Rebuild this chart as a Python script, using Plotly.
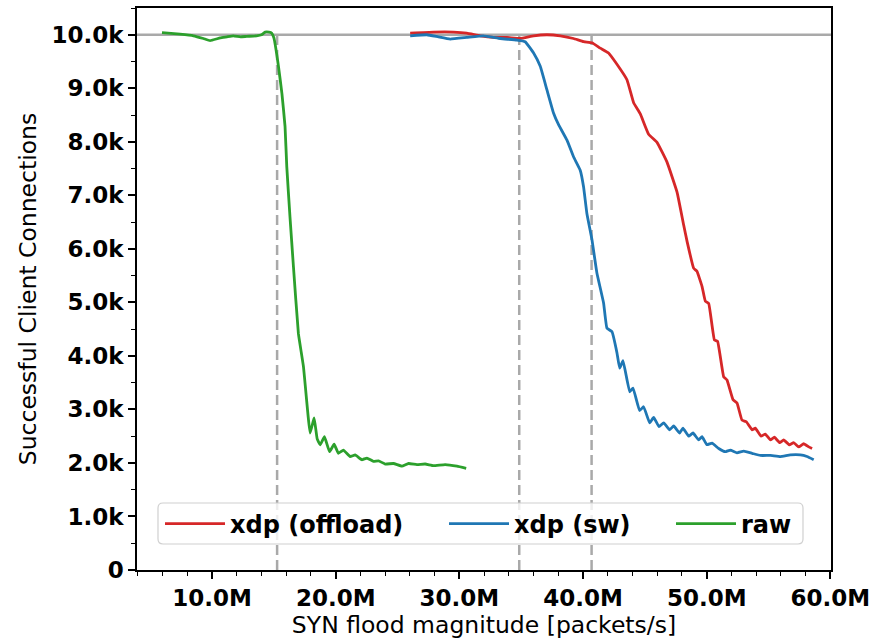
import plotly.graph_objects as go

# ---- data (x in millions of packets/s, y in thousands of connections) ----
raw_x = [5.95, 7.41, 8.49, 9.3, 9.84, 10.65, 11.2, 11.72, 12.3, 12.8, 13.6, 14.0, 14.29, 14.6, 14.83, 15.0,
         15.37, 15.65, 15.9, 16.04, 16.3, 16.58, 16.98, 17.39, 17.93, 18.25, 18.5, 18.74, 19.09, 19.5, 19.87,
         20.22, 20.62, 21.17, 21.57, 22.11, 22.52, 23.05, 23.46, 24.0, 24.67, 25.35, 25.89, 26.56, 27.23,
         27.9, 28.85, 29.8, 30.55]
raw_y = [10.04, 10.01, 9.98, 9.93, 9.89, 9.94, 9.96, 9.98, 9.96, 9.97, 9.98, 10.0, 10.05, 10.05, 10.03, 9.94,
         9.41, 8.9, 8.29, 7.54, 6.60, 5.67, 4.42, 3.80, 2.56, 2.84, 2.45, 2.34, 2.49, 2.21, 2.35,
         2.18, 2.24, 2.12, 2.15, 2.06, 2.09, 2.03, 2.04, 1.98, 1.99, 1.94, 1.99, 1.97, 1.98,
         1.95, 1.97, 1.94, 1.90]

sw_x = [26.02, 27.37, 28.3, 29.26, 30.6, 31.95, 33.3, 34.65, 35.32, 36.0, 36.54, 37.08, 37.61, 38.02, 38.7,
        39.23, 39.77, 40.04, 40.31, 40.72, 41.12, 41.66, 41.93, 42.34, 42.74, 42.96, 43.23, 43.77, 44.04,
        44.57, 44.9, 45.38, 45.71, 46.14, 46.52, 47.0, 47.33, 47.81, 48.08, 48.54, 48.89, 49.35, 49.62,
        50.02, 50.43, 50.97, 51.5, 51.91, 52.45, 52.99, 53.67, 54.34, 55.15, 55.95, 56.76, 57.57, 58.11,
        58.65]
sw_y = [9.98, 10.0, 9.96, 9.92, 9.95, 9.98, 9.93, 9.90, 9.87, 9.66, 9.41, 8.97, 8.54, 8.32, 8.03,
        7.72, 7.47, 7.16, 6.66, 6.17, 5.55, 4.99, 4.52, 4.45, 4.06, 3.77, 3.91, 3.33, 3.40,
        2.98, 3.05, 2.75, 2.85, 2.68, 2.75, 2.62, 2.69, 2.56, 2.65, 2.50, 2.56, 2.43, 2.49,
        2.34, 2.37, 2.27, 2.21, 2.24, 2.19, 2.22, 2.18, 2.14, 2.14, 2.12, 2.15, 2.15, 2.12,
        2.06]

off_x = [26.02, 27.9, 29.52, 30.6, 31.68, 32.76, 33.84, 34.92, 36.0, 37.08, 38.16, 39.23, 40.04, 40.72,
         41.39, 42.06, 42.74, 43.55, 44.09, 44.63, 45.3, 45.98, 46.79, 47.6, 48.14, 48.41, 48.94, 49.21,
         49.62, 49.89, 50.16, 50.62, 50.88, 51.37, 51.64, 52.13, 52.45, 52.85, 53.2, 53.67, 53.93, 54.39,
         54.74, 55.15, 55.47, 55.9, 56.22, 56.68, 57.03, 57.44, 57.84, 58.25, 58.52]
off_y = [10.03, 10.05, 10.05, 10.03, 9.98, 9.95, 9.95, 9.93, 9.98, 10.0, 9.98, 9.93, 9.87, 9.85,
         9.75, 9.66, 9.45, 9.16, 8.73, 8.52, 8.14, 7.99, 7.62, 7.06, 6.44, 6.14, 5.64, 5.58,
         5.30, 5.02, 4.98, 4.30, 4.27, 3.61, 3.55, 3.18, 3.12, 2.80, 2.77, 2.62, 2.65, 2.50,
         2.54, 2.43, 2.48, 2.38, 2.43, 2.34, 2.38, 2.30, 2.36, 2.30, 2.27]

series_names = ["xdp (offload)", "xdp (sw)", "raw"]
series_colors = ["#d62728", "#1f77b4", "#2ca02c"]

baseline_y = 10.0
threshold_x = [15.26, 34.84, 40.69]

x_tickvals = [10, 20, 30, 40, 50, 60]
x_ticktext = ["10.0M", "20.0M", "30.0M", "40.0M", "50.0M", "60.0M"]
y_tickvals = [0, 1, 2, 3, 4, 5, 6, 7, 8, 9, 10]
y_ticktext = ["0", "1.0k", "2.0k", "3.0k", "4.0k", "5.0k", "6.0k", "7.0k", "8.0k", "9.0k", "10.0k"]

FONT = "DejaVu Sans"
GRAY = "#a9a9a9"

# plot-area geometry in pixels (for legend placement)
L, R, T, B, W, H = 137, 48, 8, 69, 879, 639
PW, PH = W - L - R, H - T - B


def px_x(p):
    return (p - L) / PW


def px_y(p):
    return (H - B - p) / PH


legend_starts = [160, 444, 671]
legend_mid = 524

fig = go.Figure()
series = [(off_x, off_y), (sw_x, sw_y), (raw_x, raw_y)]
for i, ((xs, ys), name, col) in enumerate(zip(series, series_names, series_colors)):
    fig.add_trace(go.Scatter(x=xs, y=ys, mode="lines", name=name,
                             legend="legend" if i == 0 else f"legend{i + 1}",
                             line=dict(color=col, width=2.8, shape="spline", smoothing=0.3)))

# reference lines
fig.add_shape(type="line", xref="paper", yref="y", x0=0, x1=1, y0=baseline_y, y1=baseline_y,
              line=dict(color=GRAY, width=2.5), layer="below")
for tx in threshold_x:
    fig.add_shape(type="line", xref="x", yref="y", x0=tx, x1=tx, y0=0, y1=baseline_y,
                  line=dict(color=GRAY, width=2.5, dash="10px,5px"), layer="below")

# legend frame (rounded rectangle)
bx0, bx1 = px_x(158), px_x(803)
by0, by1 = px_y(544), px_y(503)
rx, ry = 5 / PW, 5 / PH
path = (f"M{bx0 + rx},{by0} L{bx1 - rx},{by0} Q{bx1},{by0} {bx1},{by0 + ry} "
        f"L{bx1},{by1 - ry} Q{bx1},{by1} {bx1 - rx},{by1} "
        f"L{bx0 + rx},{by1} Q{bx0},{by1} {bx0},{by1 - ry} "
        f"L{bx0},{by0 + ry} Q{bx0},{by0} {bx0 + rx},{by0} Z")
fig.add_shape(type="path", xref="paper", yref="paper", path=path,
              fillcolor="rgba(255,255,255,0.8)", line=dict(color="#d0d0d0", width=1.2), layer="above")

axis_common = dict(showline=True, linecolor="black", linewidth=1.5, mirror=True,
                   showgrid=False, zeroline=False, ticks="outside", ticklen=7, tickwidth=1.5,
                   tickcolor="black",
                   tickfont=dict(family=FONT, size=23, color="black", weight="bold"))

fig.update_xaxes(range=[3.93, 60.05], tickvals=x_tickvals, ticktext=x_ticktext,
                 minor=dict(dtick=2, ticks="outside", ticklen=4, tickwidth=1.2, tickcolor="black"),
                 title=dict(text="SYN flood magnitude [packets/s]", font=dict(family=FONT, size=23.5, color="black"),
                            standoff=5),
                 **axis_common)
fig.update_yaxes(range=[0, 10.5], tickvals=y_tickvals, ticktext=y_ticktext,
                 minor=dict(dtick=0.5, ticks="outside", ticklen=4, tickwidth=1.2, tickcolor="black"),
                 title=dict(text="Successful Client Connections", font=dict(family=FONT, size=23.5, color="black"),
                            standoff=8),
                 **axis_common)

leg_common = dict(orientation="h", xanchor="left", yanchor="middle", y=px_y(legend_mid),
                  bgcolor="rgba(0,0,0,0)", borderwidth=0, itemwidth=60,
                  font=dict(family=FONT, size=24, color="black", weight="bold"))

fig.update_layout(
    width=W, height=H,
    margin=dict(l=L, r=R, t=T, b=B, autoexpand=False),
    paper_bgcolor="white", plot_bgcolor="white",
    showlegend=True,
    legend=dict(x=px_x(legend_starts[0]), **leg_common),
    legend2=dict(x=px_x(legend_starts[1]), **leg_common),
    legend3=dict(x=px_x(legend_starts[2]), **leg_common),
)

fig.write_html("out.html", config={"displayModeBar": False},
               post_script="document.body.style.margin='0';")
